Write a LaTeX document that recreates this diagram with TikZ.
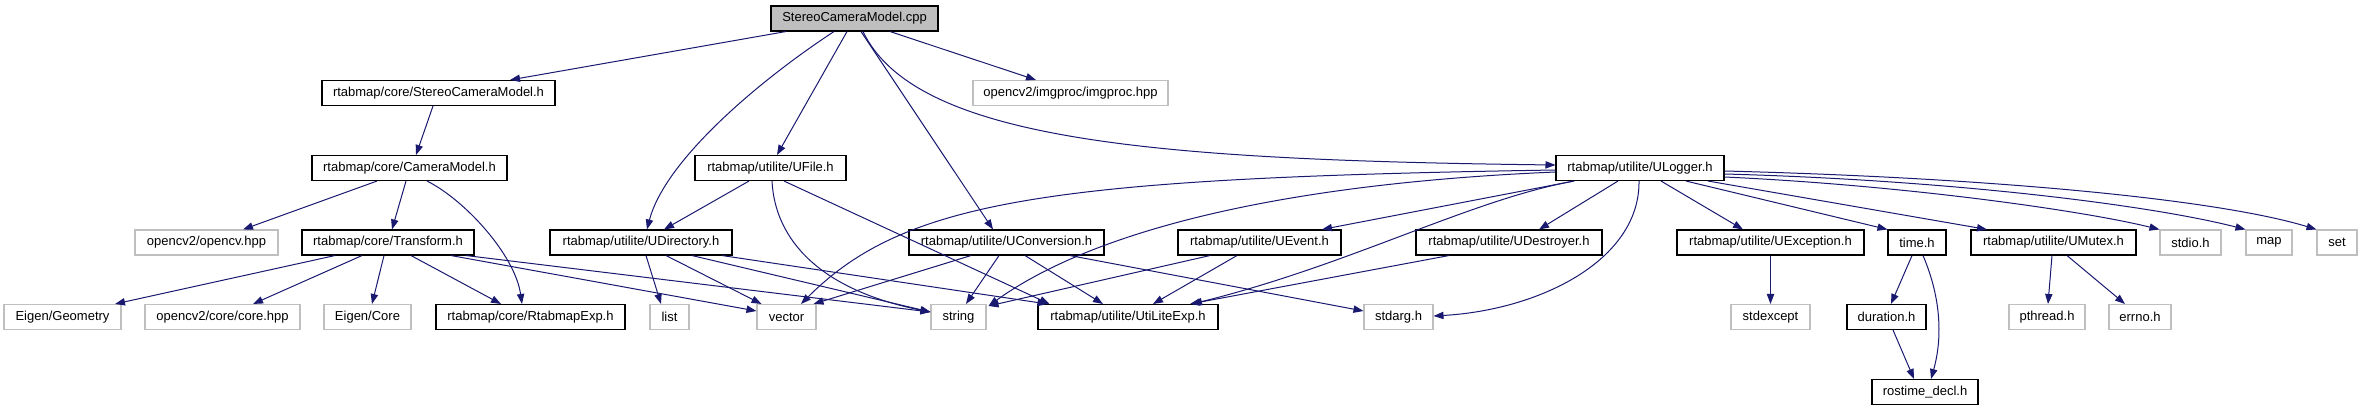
\documentclass[tikz,border=0pt]{standalone}
\usepackage{fontspec}
\setmainfont{Liberation Sans}
\usetikzlibrary{arrows.meta,calc}
\definecolor{edgeblue}{RGB}{25,25,112}
\definecolor{extgray}{RGB}{191,191,191}
\begin{document}
\begin{tikzpicture}[x=0.75pt,y=-0.75pt,
  hdr/.style={draw=black, line width=0.8pt, minimum height=18.75pt, inner sep=0pt,
              font=\fontsize{9.75}{11}\selectfont, fill=white},
  ext/.style={hdr, draw=extgray},
  root/.style={hdr, fill=extgray},
  wd/.style={minimum width=#1*0.75pt},
  dep/.style={draw=edgeblue, line width=0.75pt, -{Triangle[length=7.5pt,width=5.5pt]}}]
\useasboundingbox (0,0) rectangle (2363,411);
% row 0
\node[root, wd=167] (cpp) at (854.5,18.5) {StereoCameraModel.cpp};
% row 1
\node[hdr, wd=233] (scm) at (438.5,93) {rtabmap/core/StereoCameraModel.h};
\node[ext, wd=195] (imgproc) at (1070.5,93) {opencv2/imgproc/imgproc.hpp};
% row 2
\node[hdr, wd=195] (cam) at (409.5,168) {rtabmap/core/CameraModel.h};
\node[hdr, wd=151] (ufile) at (770.5,168) {rtabmap/utilite/UFile.h};
\node[hdr, wd=168] (ulog) at (1640,168) {rtabmap/utilite/ULogger.h};
% row 3
\node[ext, wd=143] (opencv) at (206.5,242.5) {opencv2/opencv.hpp};
\node[hdr, wd=172] (trans) at (388,242.5) {rtabmap/core/Transform.h};
\node[hdr, wd=182] (udir) at (641,242.5) {rtabmap/utilite/UDirectory.h};
\node[hdr, wd=195] (uconv) at (1006.5,242.5) {rtabmap/utilite/UConversion.h};
\node[hdr, wd=163] (uevent) at (1259.5,242.5) {rtabmap/utilite/UEvent.h};
\node[hdr, wd=186] (udest) at (1509,242.5) {rtabmap/utilite/UDestroyer.h};
\node[hdr, wd=187] (uexc) at (1770.5,242.5) {rtabmap/utilite/UException.h};
\node[hdr, wd=58] (timeh) at (1917,242.5) {time.h};
\node[hdr, wd=165] (umutex) at (2053.5,242.5) {rtabmap/utilite/UMutex.h};
\node[ext, wd=61] (stdio) at (2190.5,242.5) {stdio.h};
\node[ext, wd=46] (mapn) at (2269,242.5) {map};
\node[ext, wd=40] (setn) at (2337,242.5) {set};
% row 4
\node[ext, wd=117] (eigeo) at (62.5,317) {Eigen/Geometry};
\node[ext, wd=155] (corehpp) at (222.5,317) {opencv2/core/core.hpp};
\node[ext, wd=87] (eicore) at (367.5,317) {Eigen/Core};
\node[hdr, wd=189] (rtexp) at (530.5,317) {rtabmap/core/RtabmapExp.h};
\node[ext, wd=39] (listn) at (669.5,317) {list};
\node[ext, wd=59] (vectorn) at (786.5,317) {vector};
\node[ext, wd=55] (stringn) at (958.5,317) {string};
\node[hdr, wd=180] (utiexp) at (1128,317) {rtabmap/utilite/UtiLiteExp.h};
\node[ext, wd=69] (stdarg) at (1398.5,317) {stdarg.h};
\node[ext, wd=79] (stdexc) at (1770.5,317) {stdexcept};
\node[hdr, wd=79] (duration) at (1886.5,317) {duration.h};
\node[ext, wd=76] (pthread) at (2047,317) {pthread.h};
\node[ext, wd=62] (errnon) at (2140,317) {errno.h};
% row 5
\node[hdr, wd=106] (rostime) at (1925,392) {rostime\_decl.h};

% edges from cpp
\draw[dep] ($(cpp.south)+(-68.5,0)$) -- ($(scm.north)+(71.5,0)$);
\draw[dep] ($(cpp.south)+(-20.5,0)$) .. controls (760,80) and (665,160) .. ($(udir.north)+(6,0)$);
\draw[dep] ($(cpp.south)+(-7.5,0)$) -- ($(ufile.north)+(6.5,0)$);
\draw[dep] ($(cpp.south)+(6.5,0)$) -- ($(uconv.north)+(-13.5,0)$);
\draw[dep] ($(cpp.south)+(35.5,0)$) -- ($(imgproc.north)+(-34.5,0)$);
\draw[dep] ($(cpp.south)+(8.5,0)$) .. controls (915,140) and (1150,160) .. ($(ulog.west)+(0,-3)$);
% StereoCameraModel / CameraModel
\draw[dep] ($(scm.south)+(-5.5,0)$) -- ($(cam.north)+(6.5,0)$);
\draw[dep] ($(cam.south)+(-32.5,0)$) -- ($(opencv.north)+(36.5,0)$);
\draw[dep] ($(cam.south)+(-3.5,0)$) -- ($(trans.north)+(4,0)$);
\draw[dep] ($(cam.south)+(17.5,0)$) .. controls (465,200) and (515,255) .. ($(rtexp.north)+(-8.5,0)$);
% Transform
\draw[dep] ($(trans.south)+(-53,0)$) -- ($(eigeo.north)+(52.5,0)$);
\draw[dep] ($(trans.south)+(-26,0)$) -- ($(corehpp.north)+(30.5,0)$);
\draw[dep] ($(trans.south)+(-4,0)$) -- ($(eicore.north)+(4.5,0)$);
\draw[dep] ($(trans.south)+(23,0)$) -- ($(rtexp.north)+(-29.5,0)$);
\draw[dep] ($(trans.south)+(63,0)$) -- ($(vectorn.west)+(0,-6)$);
\draw[dep] ($(trans.south)+(78,0)$) -- ($(stringn.west)+(0,-5)$);
% UDirectory
\draw[dep] ($(udir.south)+(5,0)$) -- ($(listn.north)+(-8.5,0)$);
\draw[dep] ($(udir.south)+(25,0)$) -- ($(vectorn.north)+(-25,0)$);
\draw[dep] ($(udir.south)+(51,0)$) -- ($(stringn.west)+(0,-5)$);
\draw[dep] ($(udir.south)+(81,0)$) -- ($(utiexp.north west)+(10,0)$);
% UFile
\draw[dep] ($(ufile.south)+(-21.5,0)$) -- ($(udir.north)+(23,0)$);
\draw[dep] ($(ufile.south)+(1.5,0)$) .. controls (775,240) and (820,290) .. ($(stringn.west)+(0,-5)$);
\draw[dep] ($(ufile.south)+(13.5,0)$) -- ($(utiexp.north west)+(12,0)$);
% UConversion
\draw[dep] ($(uconv.south)+(-35.5,0)$) -- ($(vectorn.north east)+(-3,0)$);
\draw[dep] ($(uconv.south)+(-7.5,0)$) -- ($(stringn.north)+(7.5,0)$);
\draw[dep] ($(uconv.south)+(18.5,0)$) -- ($(utiexp.north)+(-25,0)$);
\draw[dep] ($(uconv.south)+(63.5,0)$) -- ($(stdarg.west)+(0,-6)$);
% ULogger
\draw[dep] ($(ulog.west)+(0,2)$) .. controls (1050,178) and (905,200) .. ($(vectorn.north)+(14.5,0)$);
\draw[dep] ($(ulog.west)+(0,4)$) .. controls (1250,185) and (1080,240) .. ($(stringn.north east)+(2,2)$);
\draw[dep] ($(ulog.south)+(-66,0)$) .. controls (1470,200) and (1350,265) .. ($(utiexp.north)+(64,0)$);
\draw[dep] ($(ulog.south)+(-66,0)$) -- ($(uevent.north)+(62.5,0)$);
\draw[dep] ($(ulog.south)+(-22,0)$) -- ($(udest.north)+(30,0)$);
\draw[dep] ($(ulog.south)+(-1,0)$) .. controls (1640,260) and (1540,310) .. ($(stdarg.east)+(0,-1)$);
\draw[dep] ($(ulog.south)+(21,0)$) -- ($(uexc.north)+(-27.5,0)$);
\draw[dep] ($(ulog.south)+(46,0)$) -- (timeh.north west);
\draw[dep] ($(ulog.south)+(68,0)$) -- ($(umutex.north)+(-66.5,0)$);
\draw[dep] ($(ulog.east)+(0,9)$) .. controls (1900,185) and (2080,210) .. (stdio.north west);
\draw[dep] ($(ulog.east)+(0,6)$) .. controls (1950,180) and (2150,205) .. (mapn.north west);
\draw[dep] ($(ulog.east)+(0,3)$) .. controls (2000,178) and (2220,200) .. (setn.north west);
% UEvent, UDestroyer
\draw[dep] ($(uevent.south)+(-49.5,0)$) -- ($(stringn.north east)+(2,2)$);
\draw[dep] ($(uevent.south)+(-22.5,0)$) -- ($(utiexp.north)+(25,0)$);
\draw[dep] ($(udest.south)+(-60,0)$) -- ($(utiexp.north)+(62,0)$);
% UException, time, UMutex
\draw[dep] (uexc) -- (stdexc);
\draw[dep] ($(timeh.south)+(-5,0)$) -- ($(duration.north)+(4.5,0)$);
\draw[dep] ($(timeh.south)+(6,0)$) .. controls (1942,300) and (1942,340) .. ($(rostime.north)+(6,0)$);
\draw[dep] ($(duration.south)+(6.5,0)$) -- ($(rostime.north)+(-11,0)$);
\draw[dep] ($(umutex.south)+(-1.5,0)$) -- ($(pthread.north)+(1,0)$);
\draw[dep] ($(umutex.south)+(13.5,0)$) -- ($(errnon.north)+(-15,0)$);
\end{tikzpicture}
\end{document}
